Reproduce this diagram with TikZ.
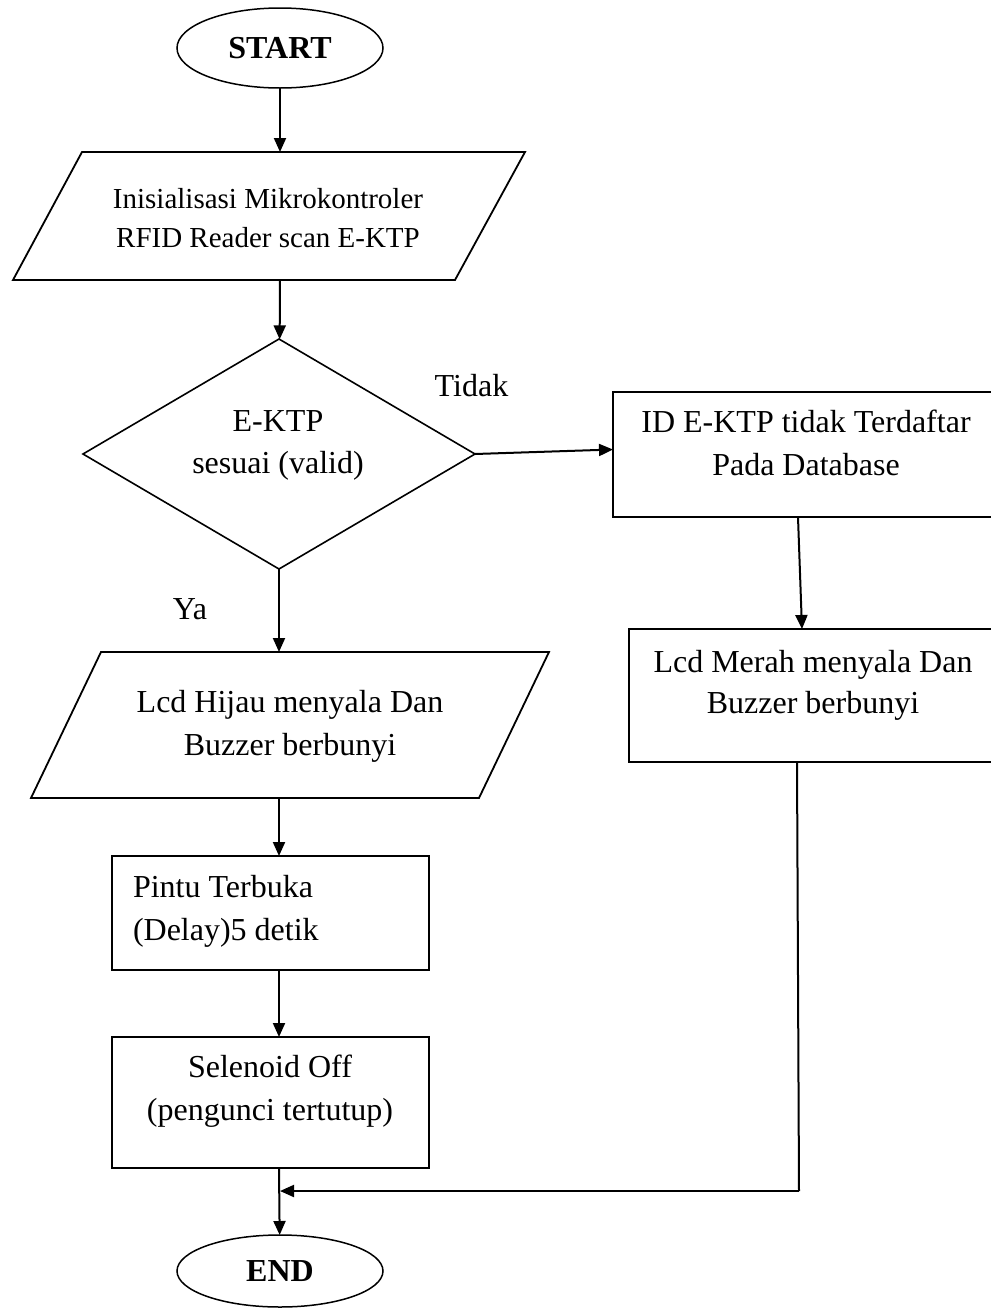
\documentclass[tikz,border=0pt]{standalone}
\usepackage{fontspec}
\setmainfont{Liberation Serif}
\usetikzlibrary{shapes.geometric,arrows.meta}
\begin{document}
\begin{tikzpicture}[x=1pt,y=-1pt,
  line width=1.8pt,
  every node/.style={inner sep=0pt, outer sep=0pt},
  txt/.style={font=\fontsize{32}{43}\selectfont, align=center},
  terminal/.style={draw, ellipse, line width=1.5pt, minimum width=206pt, font=\fontsize{32}{38}\selectfont\bfseries},
  frame/.style={draw, rectangle},
  area/.style={rectangle},
  decision/.style={draw, diamond, line width=1.6pt, minimum width=392pt, minimum height=230pt},
  flow/.style={line width=2pt, -{Triangle[width=12pt,length=14pt]}},
  wire/.style={line width=2pt},
]
\path[fill=white, use as bounding box] (0,0) rectangle (991,1310);

% terminals
\node[terminal, minimum height=80pt] (start) at (280,48) {START};
\node[terminal, minimum height=72pt] (fin) at (280,1271) {END};

% input: initialisation
\node[area, minimum width=512pt, minimum height=128pt] (inp) at (269,216) {};
\draw ([xshift=69pt]inp.north west) -- (inp.north east) -- ([xshift=-70pt]inp.south east) -- (inp.south west) -- cycle;
\node[txt, font=\fontsize{29}{39}\selectfont] (inptext) at (268,217.6) {Inisialisasi Mikrokontroler\\RFID Reader scan E-KTP};

% decision
\node[decision] (dec) at (279,454) {};
\node[txt, font=\fontsize{32}{42}\selectfont] (dectext) at (278,445.2) {E-KTP\\sesuai (valid)};
\node[txt] (tidak) at (471.5,386) {Tidak};
\node[txt] (ya) at (190,609.5) {Ya};

% rejected branch
\node[frame, minimum width=382pt, minimum height=125pt] (ng) at (804,454.5) {};
\node[txt] (ngtext) at (806,442.5) {ID E-KTP tidak Terdaftar\\Pada Database};
\node[frame, minimum width=366pt, minimum height=133pt] (red) at (812,695.5) {};
\node[txt, font=\fontsize{32}{41}\selectfont] (redtext) at (813,685) {Lcd Merah menyala Dan\\Buzzer berbunyi};
\coordinate (join) at (799,1191);

% accepted branch
\node[area, minimum width=518pt, minimum height=146pt] (out) at (290,725) {};
\draw ([xshift=70pt]out.north west) -- (out.north east) -- ([xshift=-70pt]out.south east) -- (out.south west) -- cycle;
\node[txt] (outtext) at (290,726) {Lcd Hijau menyala Dan\\Buzzer berbunyi};
\node[frame, minimum width=317pt, minimum height=114pt] (open) at (270.5,913) {};
\node[txt, align=left, anchor=west] (opentext) at (133,911) {Pintu Terbuka\\(Delay)5 detik};
\node[frame, minimum width=317pt, minimum height=131pt] (lock) at (270.5,1102.5) {};
\node[txt] (locktext) at (270,1091) {Selenoid Off\\(pengunci tertutup)};

% connectors
\draw[flow] (start) -- (start |- inp.north);
\draw[flow] (start |- inp.south) -- (dec);
\draw[flow] (dec.east) -- ([yshift=5pt]ng.west);
\draw[flow] ([xshift=-6pt]ng.south) -- ([xshift=-10pt]red.north);
\draw[wire] ([xshift=-15pt]red.south) -- (join);
\draw[flow] (join) -- (join -| fin.north);
\draw[flow] (dec.south) -- (dec.south |- out.north);
\draw[flow] (dec.south |- out.south) -- (dec.south |- open.north);
\draw[flow] (dec.south |- open.south) -- (dec.south |- lock.north);
\draw[flow] (dec.south |- lock.south) -- (fin);
\end{tikzpicture}
\end{document}
